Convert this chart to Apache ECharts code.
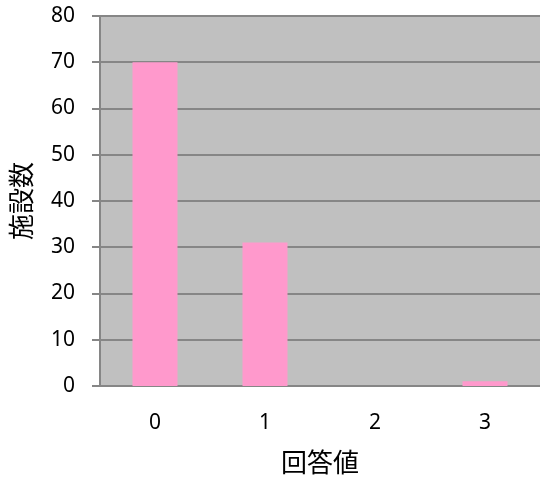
<!DOCTYPE html>
<html><head><meta charset="utf-8">
<script src="https://cdn.jsdelivr.net/npm/echarts@6/dist/echarts.min.js"></script>
<style>html,body{margin:0;padding:0;background:#fff}#c{width:540px;height:480px}</style>
</head><body><div id="c"></div>
<script>
const categories = ['0', '1', '2', '3'];
const counts = [70, 31, 0, 1];
const yMin = 0, yMax = 80, yStep = 10;
const xTitle = '回答値';
const yTitle = '施設数';

const chart = echarts.init(document.getElementById('c'));
chart.setOption({
  animation: false,
  backgroundColor: '#ffffff',
  grid: { left: 100, right: 0, top: 16, bottom: 93, show: true, backgroundColor: '#c0c0c0', borderWidth: 0 },
  xAxis: {
    type: 'category', data: categories,
    name: xTitle, nameLocation: 'middle', nameGap: 63,
    nameTextStyle: { fontFamily: 'Noto Sans CJK JP', fontSize: 26, color: '#000' },
    axisLine: { lineStyle: { color: '#868686', width: 2 } },
    axisTick: { show: false },
    axisLabel: { fontFamily: 'Noto Sans', fontSize: 21, color: '#000', margin: 27 }
  },
  yAxis: {
    type: 'value', min: yMin, max: yMax, interval: yStep,
    name: yTitle, nameLocation: 'middle', nameGap: 66, nameRotate: 90,
    nameTextStyle: { fontFamily: 'Noto Sans CJK JP', fontSize: 26, color: '#000' },
    axisLine: { show: true, lineStyle: { color: '#868686', width: 2 } },
    axisTick: { show: true, length: 8, lineStyle: { color: '#868686', width: 2 } },
    axisLabel: { fontFamily: 'Noto Sans', fontSize: 21, color: '#000', margin: 25 },
    splitLine: { show: true, lineStyle: { color: '#868686', width: 2 } }
  },
  series: [{
    type: 'bar', data: counts, barWidth: 45,
    itemStyle: { color: '#ff99cc' }
  }]
});
</script></body></html>
